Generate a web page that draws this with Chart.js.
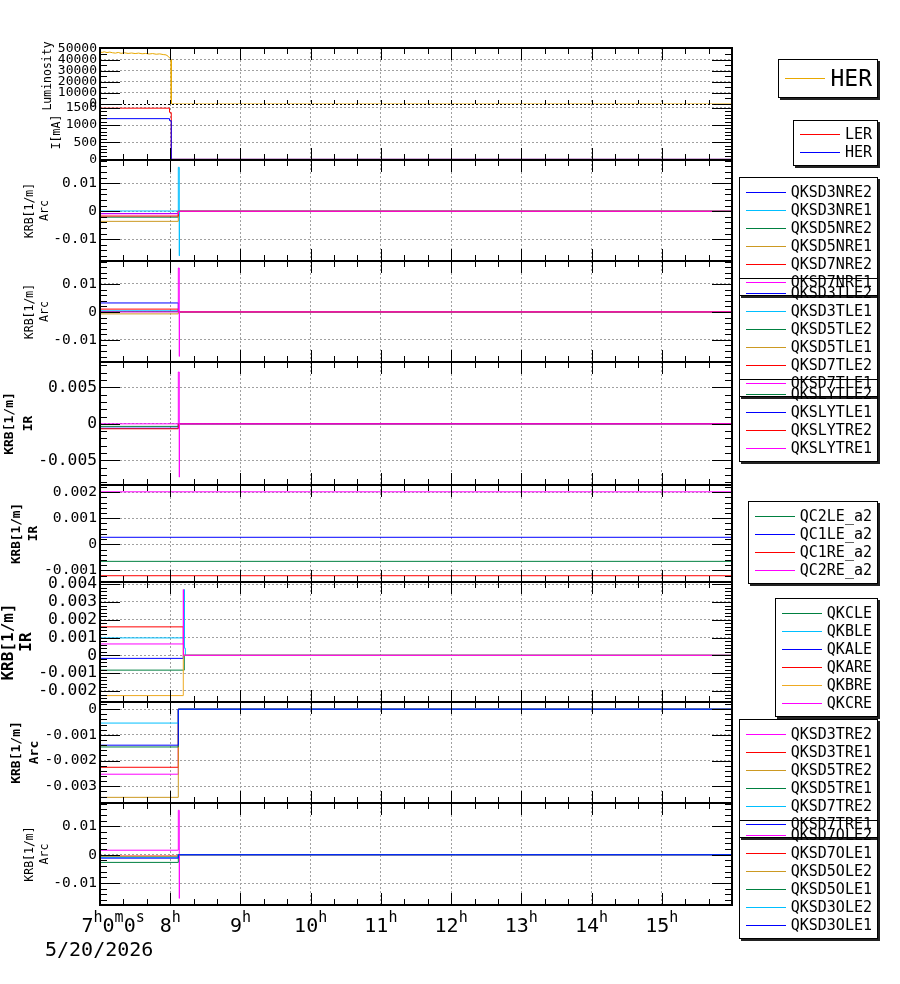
<!DOCTYPE html>
<html><head><meta charset="utf-8">
<script src="https://cdn.jsdelivr.net/npm/chart.js@4/dist/chart.umd.min.js"></script>
<style>
html,body{margin:0;padding:0;background:#fff;}
#wrap{position:relative;width:900px;height:984px;overflow:hidden;background:#fff;}
canvas.panel{position:absolute;left:0;top:0;}
#legends{position:absolute;left:0;top:0;width:900px;height:984px;}
.leg{position:absolute;right:22px;border:1px solid #000;box-shadow:2px 2px 0 #222;font-family:'DejaVu Sans Mono',monospace;color:#000;background:transparent;}
.leg .row{position:relative;display:block;white-space:nowrap;padding-left:45px;}
.leg .ln{position:absolute;left:0;width:40px;height:1px;}
.leg .tx{display:block;}
</style></head>
<body><div id="wrap"></div>
<script>
// ---------------- data ----------------
const X_MIN = 7, X_MAX = 16;
const xHours = [7, 8, 9, 10, 11, 12, 13, 14, 15];
const xTickLabels = ['7h0m0s', '8h', '9h', '10h', '11h', '12h', '13h', '14h', '15h'];
const dateLabel = '5/20/2026';

// Panel 1: luminosity
const lumTimes = [7.00, 7.03, 7.06, 7.10, 7.14, 7.18, 7.22, 7.26, 7.30, 7.35, 7.40, 7.45, 7.50, 7.55, 7.60, 7.65, 7.70, 7.75, 7.80, 7.85, 7.90, 7.94, 7.97, 7.99, 8.005, 8.012, 8.015, 16];
const lumHER   = [46800, 46400, 47000, 46300, 46700, 46100, 45800, 46400, 45600, 46100, 45500, 45900, 45400, 45800, 45200, 45500, 45000, 45400, 44800, 45100, 44500, 44200, 43000, 41500, 40600, 40000, 0, 0];
const lumTicks = [0, 10000, 20000, 30000, 40000, 50000];

// Panel 2: beam current
const curTimes = [7, 7.99, 8.005, 8.015, 16];
const curLER = [1490, 1370, 1360, 0, 0];
const curHER = [1185, 1130, 1125, 0, 0];
const curTicks = [0, 500, 1000, 1500];

// Panel 3: Arc NRE
const nreTimes = [7, 8.115, 8.129, 8.131, 16];
const QKSD3NRE2 = [-0.0008, 0, 0, 0, 0];
const QKSD3NRE1 = [0.0001, 0.0157, -0.0159, 0, 0];
const QKSD5NRE2 = [-0.0021, 0, 0, 0, 0];
const QKSD5NRE1 = [-0.0036, 0, 0, 0, 0];
const QKSD7NRE2 = [-0.0017, 0, 0, 0, 0];
const QKSD7NRE1 = [-0.0009, 0, 0, 0, 0];
const arcTicks = [-0.01, 0, 0.01];

// Panel 4: Arc TLE
const tleTimes = [7, 8.115, 8.129, 8.131, 16];
const QKSD3TLE2 = [0.0032, 0, 0, 0, 0];
const QKSD3TLE1 = [0.0004, 0, 0, 0, 0];
const QKSD5TLE2 = [0.0001, 0, 0, 0, 0];
const QKSD5TLE1 = [-0.0007, 0, 0, 0, 0];
const QKSD7TLE2 = [0.0010, 0, 0, 0, 0];
const QKSD7TLE1 = [0.0000, 0.0157, -0.0159, 0, 0];

// Panel 5: IR SLY
const slyTimes = [7, 8.115, 8.129, 8.131, 16];
const QKSLYTLE2 = [-0.00035, 0, 0, 0, 0];
const QKSLYTLE1 = [-0.0006, 0, 0, 0, 0];
const QKSLYTRE2 = [-0.00068, 0, 0, 0, 0];
const QKSLYTRE1 = [0, 0.0071, -0.0073, 0, 0];
const slyTicks = [-0.005, 0, 0.005];

// Panel 6: IR QC a2
const qcTimes = [7, 16];
const QC2LE_a2 = [-0.00065, -0.00065];
const QC1LE_a2 = [0.00027, 0.00027];
const QC1RE_a2 = [-0.0012, -0.0012];
const QC2RE_a2 = [0.00201, 0.00201];
const qcTicks = [-0.001, 0, 0.001, 0.002];

// Panel 7: IR QK
const qkTimes = [7, 8.186, 8.188, 8.200, 8.202, 8.215, 16];
const QKCLE = [-0.00083, -0.00083, -0.00083, 0, 0, 0, 0];
const QKBLE = [0.00098, 0.00098, 0.00098, 0.0037, 0.0004, 0, 0];
const QKALE = [-0.00017, 0, 0, 0, 0, 0, 0];
const QKARE = [0.0016, 0, 0, 0, 0, 0, 0];
const QKBRE = [-0.00226, 0, 0, 0, 0, 0, 0];
const QKCRE = [0.00064, 0.0037, 0, 0, 0, 0, 0];
const qkTicks = [-0.002, -0.001, 0, 0.001, 0.002, 0.003, 0.004];

// Panel 8: Arc TRE
const treTimes = [7, 8.115, 16];
const QKSD3TRE2 = [-0.00253, 0, 0];
const QKSD3TRE1 = [-0.00226, 0, 0];
const QKSD5TRE2 = [-0.00343, 0, 0];
const QKSD5TRE1 = [-0.00147, 0, 0];
const QKSD7TRE2 = [-0.00054, 0, 0];
const QKSD7TRE1 = [-0.0014, 0, 0];
const treTicks = [-0.003, -0.002, -0.001, 0];

// Panel 9: Arc OLE
const oleTimes = [7, 8.115, 8.129, 8.131, 16];
const QKSD7OLE2 = [0.0016, 0.0157, -0.0154, 0, 0];
const QKSD7OLE1 = [-0.00046, 0, 0, 0, 0];
const QKSD5OLE2 = [-0.0006, 0, 0, 0, 0];
const QKSD5OLE1 = [-0.0027, 0, 0, 0, 0];
const QKSD3OLE2 = [-0.0009, 0, 0, 0, 0];
const QKSD3OLE1 = [-0.0012, 0, 0, 0, 0];

// ---------------- styles / layout ----------------
const COL = {blue:'#0000ff', cyan:'#00bfff', green:'#008040', gold:'#cc9922', red:'#ff0000', magenta:'#ff00ff', orange:'#e8a800', amber:'#eeaa22'};
const FONT = "'DejaVu Sans Mono', monospace";
const PLOT_LEFT = 100, PLOT_RIGHT = 732, W = 900, H = 984;

const panels = [
  {top:48, bottom:104, times:lumTimes, stepped:false, yMin:0, yMax:50400, ticks:lumTicks, minor:5000, tickSize:13, zeroBlack:true,
   title:['Luminosity'], tFont:{size:11.5}, tLH:13.8, tX:48.5, frame:{top:true,bottom:false}, xt:{top:12, bottom:4},
   legend:{off:11, size:23, row:27, pt:5, pb:5},
   series:[{name:'HER', color:COL.orange, v:lumHER}]},
  {top:104, bottom:160, times:curTimes, stepped:true, yMin:-20, yMax:1612, ticks:curTicks, minor:100, tickSize:13, zeroBlack:true,
   title:['I[mA]'], tFont:{size:11.5}, tLH:13.8, tX:56.7, frame:{top:false,bottom:true}, xt:{top:0, bottom:12},
   legend:{off:16, size:15, row:18, pt:4, pb:4},
   series:[{name:'LER', color:COL.red, v:curLER},{name:'HER', color:COL.blue, v:curHER}]},
  {top:160, bottom:261, times:nreTimes, stepped:true, yMin:-0.01775, yMax:0.0183, ticks:arcTicks, minor:0.002, tickSize:14.5,
   title:['KRB[1/m]','Arc'], tFont:{size:11.5}, tLH:14.5, tX:30.5, frame:{top:true,bottom:true}, xt:{top:12, bottom:12},
   legend:{off:17, size:15, row:18, pt:5, pb:4},
   series:[{name:'QKSD3NRE2',color:COL.blue,v:QKSD3NRE2},{name:'QKSD3NRE1',color:COL.cyan,v:QKSD3NRE1},{name:'QKSD5NRE2',color:COL.green,v:QKSD5NRE2},
           {name:'QKSD5NRE1',color:COL.gold,v:QKSD5NRE1},{name:'QKSD7NRE2',color:COL.red,v:QKSD7NRE2},{name:'QKSD7NRE1',color:COL.magenta,v:QKSD7NRE1}]},
  {top:261, bottom:362, times:tleTimes, stepped:true, yMin:-0.0179, yMax:0.0182, ticks:arcTicks, minor:0.002, tickSize:14.5,
   title:['KRB[1/m]','Arc'], tFont:{size:11.5}, tLH:14.5, tX:30.5, frame:{top:true,bottom:true}, xt:{top:12, bottom:12},
   legend:{off:17, size:15, row:18, pt:5, pb:4},
   series:[{name:'QKSD3TLE2',color:COL.blue,v:QKSD3TLE2},{name:'QKSD3TLE1',color:COL.cyan,v:QKSD3TLE1},{name:'QKSD5TLE2',color:COL.green,v:QKSD5TLE2},
           {name:'QKSD5TLE1',color:COL.gold,v:QKSD5TLE1},{name:'QKSD7TLE2',color:COL.red,v:QKSD7TLE2},{name:'QKSD7TLE1',color:COL.magenta,v:QKSD7TLE1}]},
  {top:362, bottom:485, times:slyTimes, stepped:true, yMin:-0.00838, yMax:0.00847, ticks:slyTicks, minor:0.001, tickSize:16.3,
   title:['KRB[1/m]','IR'], tFont:{size:13, weight:'bold'}, tLH:18.5, tX:10, frame:{top:true,bottom:true}, xt:{top:12, bottom:12},
   legend:{off:17, size:15, row:18, pt:5, pb:4},
   series:[{name:'QKSLYTLE2',color:COL.green,v:QKSLYTLE2},{name:'QKSLYTLE1',color:COL.blue,v:QKSLYTLE1},{name:'QKSLYTRE2',color:COL.red,v:QKSLYTRE2},{name:'QKSLYTRE1',color:COL.magenta,v:QKSLYTRE1}]},
  {top:485, bottom:582, times:qcTimes, stepped:false, yMin:-0.00144, yMax:0.00227, ticks:qcTicks, minor:0.0002, tickSize:14.7,
   title:['KRB[1/m]','IR'], tFont:{size:12.7, weight:'bold'}, tLH:17, tX:16.7, frame:{top:true,bottom:true}, xt:{top:12, bottom:12},
   legend:{off:16, size:15, row:18, pt:5, pb:4},
   series:[{name:'QC2LE_a2',color:COL.green,v:QC2LE_a2},{name:'QC1LE_a2',color:COL.blue,v:QC1LE_a2},{name:'QC1RE_a2',color:COL.red,v:QC1RE_a2},{name:'QC2RE_a2',color:COL.magenta,v:QC2RE_a2}]},
  {top:582, bottom:702, times:qkTimes, stepped:true, yMin:-0.00262, yMax:0.00412, ticks:qkTicks, minor:0.0002, tickSize:16.3,
   title:['KRB[1/m]','IR'], tFont:{size:16, weight:'bold'}, tLH:18.5, tX:8.5, frame:{top:true,bottom:true}, xt:{top:12, bottom:12},
   legend:{off:16, size:15, row:18, pt:5, pb:4},
   series:[{name:'QKCLE',color:COL.green,v:QKCLE},{name:'QKBLE',color:COL.cyan,v:QKBLE},{name:'QKALE',color:COL.blue,v:QKALE},
           {name:'QKARE',color:COL.red,v:QKARE},{name:'QKBRE',color:COL.amber,v:QKBRE},{name:'QKCRE',color:COL.magenta,v:QKCRE}]},
  {top:702, bottom:803, times:treTimes, stepped:true, yMin:-0.00365, yMax:0.00028, ticks:treTicks, minor:0.0002, tickSize:14.5,
   title:['KRB[1/m]','Arc'], tFont:{size:13, weight:'bold'}, tLH:18.5, tX:16.2, frame:{top:true,bottom:true}, xt:{top:12, bottom:12},
   legend:{off:17, size:15, row:18, pt:5, pb:4},
   series:[{name:'QKSD3TRE2',color:COL.magenta,v:QKSD3TRE2},{name:'QKSD3TRE1',color:COL.red,v:QKSD3TRE1},{name:'QKSD5TRE2',color:COL.gold,v:QKSD5TRE2},
           {name:'QKSD5TRE1',color:COL.green,v:QKSD5TRE1},{name:'QKSD7TRE2',color:COL.cyan,v:QKSD7TRE2},{name:'QKSD7TRE1',color:COL.blue,v:QKSD7TRE1}]},
  {top:803, bottom:905, times:oleTimes, stepped:true, yMin:-0.01774, yMax:0.01827, ticks:arcTicks, minor:0.002, tickSize:14.5,
   title:['KRB[1/m]','Arc'], tFont:{size:11.5}, tLH:14.5, tX:30.5, frame:{top:true,bottom:true}, xt:{top:12, bottom:12}, xLabels:true,
   legend:{off:17, size:15, row:18, pt:5, pb:4},
   series:[{name:'QKSD7OLE2',color:COL.magenta,v:QKSD7OLE2},{name:'QKSD7OLE1',color:COL.red,v:QKSD7OLE1},{name:'QKSD5OLE2',color:COL.gold,v:QKSD5OLE2},
           {name:'QKSD5OLE1',color:COL.green,v:QKSD5OLE1},{name:'QKSD3OLE2',color:COL.cyan,v:QKSD3OLE2},{name:'QKSD3OLE1',color:COL.blue,v:QKSD3OLE1}]}
];

Chart.defaults.color = '#000';
Chart.defaults.font.family = FONT;

function decorPlugin(p) {
  return {
    id: 'decor',
    afterDatasetsDraw(chart) {
      const {ctx, chartArea: a} = chart;
      const xs = chart.scales.x, ys = chart.scales.y;
      ctx.save();
      ctx.strokeStyle = '#000';
      ctx.lineWidth = 1;
      ctx.beginPath();
      for (let k = Math.ceil(X_MIN * 3 - 1e-9); k <= Math.floor(X_MAX * 3 + 1e-9); k++) {
        const px = Math.round(xs.getPixelForValue(k / 3)) + 0.5;
        if (px <= a.left + 1 || px >= a.right - 1) continue;
        const major = (k % 3 === 0);
        const lb = major ? p.xt.bottom : Math.min(6, p.xt.bottom);
        const lt = major ? p.xt.top : Math.min(6, p.xt.top);
        if (lb > 0) { ctx.moveTo(px, a.bottom); ctx.lineTo(px, a.bottom - lb); }
        if (lt > 0) { ctx.moveTo(px, a.top); ctx.lineTo(px, a.top + lt); }
      }
      for (let k = Math.ceil(ys.min / p.minor - 1e-6); k <= Math.floor(ys.max / p.minor + 1e-6); k++) {
        const py = Math.round(ys.getPixelForValue(k * p.minor)) + 0.5;
        ctx.moveTo(a.left, py); ctx.lineTo(a.left + 7, py);
        ctx.moveTo(a.right, py); ctx.lineTo(a.right - 7, py);
      }
      p.ticks.forEach(v => {
        const py = Math.round(ys.getPixelForValue(v)) + 0.5;
        ctx.moveTo(a.left, py); ctx.lineTo(a.left + 20, py);
        ctx.moveTo(a.right, py); ctx.lineTo(a.right - 20, py);
      });
      ctx.stroke();
      ctx.lineWidth = 2;
      ctx.beginPath();
      ctx.moveTo(a.left, a.top); ctx.lineTo(a.left, a.bottom);
      ctx.moveTo(a.right, a.top); ctx.lineTo(a.right, a.bottom);
      if (p.frame.top) { ctx.moveTo(a.left - 1, a.top); ctx.lineTo(a.right + 1, a.top); }
      if (p.frame.bottom) { ctx.moveTo(a.left - 1, a.bottom); ctx.lineTo(a.right + 1, a.bottom); }
      ctx.stroke();
      ctx.restore();
    }
  };
}

const xLabelPlugin = {
  id: 'xlabels',
  afterDraw(chart) {
    const {ctx} = chart;
    const xs = chart.scales.x;
    const b = chart.chartArea.bottom;
    const big = "20px 'DejaVu Sans Mono'", small = "15px 'DejaVu Sans Mono'";
    ctx.save();
    ctx.fillStyle = '#000';
    ctx.textAlign = 'left';
    ctx.textBaseline = 'alphabetic';
    xTickLabels.forEach((lab, i) => {
      const parts = lab.match(/\d+|[a-z]+/g);
      let w = 0;
      parts.forEach(s => { ctx.font = /\d/.test(s) ? big : small; w += ctx.measureText(s).width; });
      const tx = xs.getPixelForValue(xHours[i]);
      let x = (i === 0) ? tx - 18.5 : tx - w / 2;
      parts.forEach(s => {
        const num = /\d/.test(s);
        ctx.font = num ? big : small;
        ctx.fillText(s, x, b + (num ? 27 : 17));
        x += ctx.measureText(s).width;
      });
    });
    ctx.font = big;
    ctx.fillText(dateLabel, 45, b + 51);
    ctx.restore();
  }
};

const wrap = document.getElementById('wrap');
const legendLayer = document.createElement('div');
legendLayer.id = 'legends';

panels.forEach(p => {
  const cv = document.createElement('canvas');
  cv.className = 'panel';
  cv.width = W; cv.height = H;
  cv.style.width = W + 'px'; cv.style.height = H + 'px';
  wrap.appendChild(cv);
  const n = p.series.length;
  const datasets = p.series.map((s, i) => ({
    label: s.name,
    data: p.times.map((t, j) => ({x: t, y: s.v[j]})),
    borderColor: s.color,
    backgroundColor: s.color,
    borderWidth: 1,
    pointRadius: 0,
    fill: false,
    tension: 0,
    stepped: p.stepped ? 'before' : false,
    order: n - i
  }));
  const plugins = [decorPlugin(p)];
  if (p.xLabels) plugins.push(xLabelPlugin);
  const gridColor = p.zeroBlack ? (c => (c.tick && c.tick.value === 0) ? '#000' : '#a0a0a0') : '#a0a0a0';
  new Chart(cv, {
    type: 'line',
    data: {datasets},
    options: {
      responsive: false,
      animation: false,
      devicePixelRatio: 1,
      parsing: false,
      normalized: true,
      layout: {padding: {top: p.top, bottom: H - p.bottom, left: 0, right: W - PLOT_RIGHT}},
      plugins: {legend: {display: false}, tooltip: {enabled: false}},
      scales: {
        x: {
          type: 'linear', min: X_MIN, max: X_MAX,
          afterBuildTicks: s => { s.ticks = xHours.filter(h => h > X_MIN).map(h => ({value: h})); },
          afterFit: s => { s.height = 0; },
          ticks: {display: false},
          grid: {color: '#a0a0a0', lineWidth: 1, drawTicks: false},
          border: {display: false, dash: [2, 2]}
        },
        y: {
          type: 'linear', min: p.yMin, max: p.yMax,
          afterBuildTicks: s => { s.ticks = p.ticks.map(v => ({value: v})); },
          afterFit: s => { s.width = PLOT_LEFT; },
          ticks: {autoSkip: false, padding: 3, color: '#000', font: {family: FONT, size: p.tickSize}, callback: v => String(v)},
          grid: {color: gridColor, lineWidth: 1, drawTicks: false},
          border: {display: false, dash: [2, 2]},
          title: {display: true, text: p.title, color: '#000',
                  font: Object.assign({family: FONT, lineHeight: p.tLH + 'px'}, p.tFont),
                  padding: {top: p.tX - p.tLH / 2, bottom: 0}}
        }
      }
    },
    plugins
  });

  // legend box (HTML text), built from the same series arrays
  const lg = document.createElement('div');
  lg.className = 'leg';
  lg.style.top = (p.top + p.legend.off) + 'px';
  lg.style.fontSize = p.legend.size + 'px';
  lg.style.padding = p.legend.pt + 'px 5px ' + p.legend.pb + 'px 6px';
  p.series.forEach(s => {
    const row = document.createElement('div');
    row.className = 'row';
    row.style.height = p.legend.row + 'px';
    row.style.lineHeight = p.legend.row + 'px';
    const ln = document.createElement('span');
    ln.className = 'ln';
    ln.style.top = Math.floor(p.legend.row / 2) + 'px';
    ln.style.backgroundColor = s.color;
    const tx = document.createElement('span');
    tx.className = 'tx';
    tx.textContent = s.name;
    row.appendChild(ln); row.appendChild(tx);
    lg.appendChild(row);
  });
  legendLayer.appendChild(lg);
});
wrap.appendChild(legendLayer);
</script>
</body></html>
